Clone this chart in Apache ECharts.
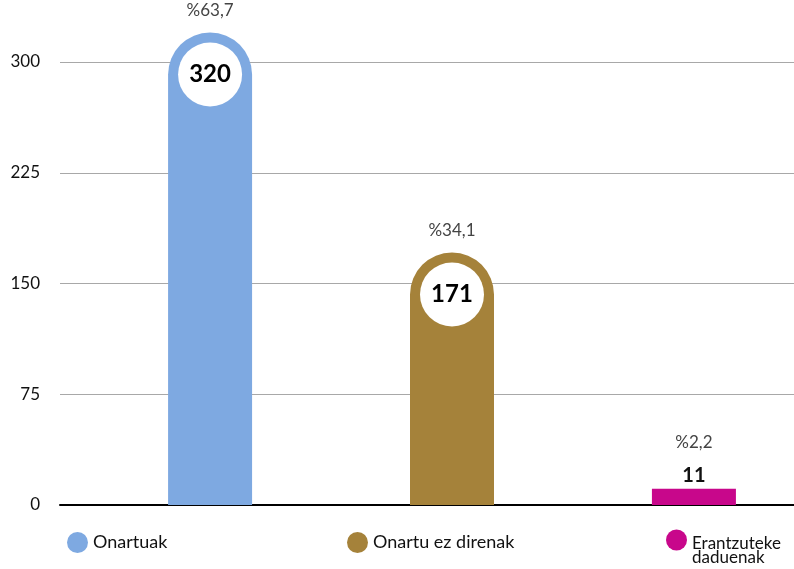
<!DOCTYPE html>
<html>
<head>
<meta charset="utf-8">
<script src="https://cdn.jsdelivr.net/npm/echarts@6/dist/echarts.min.js"></script>
<style>
  html, body { margin: 0; padding: 0; background: #fff; }
  #chart { width: 794px; height: 569px; }
</style>
</head>
<body>
<div id="chart"></div>
<script>
var names = ['Onartuak', 'Onartu ez direnak', 'Erantzuteke daduenak'];
var values = [320, 171, 11];
var percents = [63.7, 34.1, 2.2];
var colors = ['#7EA9E1', '#A5823A', '#C8078B'];
var yTicks = { min: 0, max: 300, interval: 75 };

var font = 'Lato, "Open Sans", sans-serif';

function pctText(p) {
  return '%' + String(p).replace('.', ',');
}

var chart = echarts.init(document.getElementById('chart'));

var series = names.map(function (name, i) {
  var big = values[i] > 50;
  var label;
  if (big) {
    label = {
      show: true,
      position: 'top',
      distance: 0,
      offset: [0, 74],
      formatter: '{pct|' + pctText(percents[i]) + '}\n{val|' + values[i] + '}',
      rich: {
        pct: { fontFamily: font, fontSize: 17, color: '#444', lineHeight: 64, align: 'center' },
        val: {
          fontFamily: font, fontSize: 24, fontWeight: 'bold', color: '#000',
          backgroundColor: '#fff', width: 64, height: 64, lineHeight: 64,
          borderRadius: 32, align: 'center'
        }
      }
    };
  } else {
    label = {
      show: true,
      position: 'top',
      distance: 0,
      formatter: '{pct|' + pctText(percents[i]) + '}\n{val|' + values[i] + '}',
      rich: {
        pct: { fontFamily: font, fontSize: 17, color: '#444', lineHeight: 40, align: 'center' },
        val: { fontFamily: font, fontSize: 20, fontWeight: 'bold', color: '#111', lineHeight: 26, align: 'center' }
      }
    };
  }
  return {
    name: name,
    type: 'bar',
    xAxisIndex: 1,
    yAxisIndex: 1,
    barWidth: 84,
    barGap: '188%',
    clip: false,
    itemStyle: {
      color: colors[i],
      borderRadius: big ? [42, 42, 0, 0] : 0
    },
    label: label,
    data: [values[i]]
  };
});

// legend items sit at uneven spots, so one legend per series
var legendLeft = [62, 342, 661];
var legends = names.map(function (name, i) {
  var twoLines = i == 2;
  return {
    data: [name],
    left: legendLeft[i],
    top: twoLines ? 516 : 527,
    icon: 'circle',
    itemWidth: 21,
    itemHeight: 21,
    selectedMode: false,
    formatter: function (n) {
      if (!twoLines) return n;
      // blank first line pushes the two text lines below the dot centre
      var parts = n.split(' ');
      return '{s| }\n{t|' + parts[0] + '}\n{t|' + parts[1] + '}';
    },
    textStyle: {
      fontFamily: font,
      fontSize: 18,
      color: '#111',
      rich: {
        s: { fontSize: 10, lineHeight: 22 },
        t: { fontFamily: font, fontSize: 17, lineHeight: 14, color: '#111' }
      }
    }
  };
});

var option = {
  backgroundColor: '#fff',
  animation: false,
  legend: legends,
  grid: [
    { left: 60, right: 0, top: 62, bottom: 64 },
    { left: 110, right: 0, top: 62, bottom: 64 }
  ],
  xAxis: [
    {
      gridIndex: 0,
      type: 'category',
      data: [''],
      axisLine: { show: true, lineStyle: { color: '#000', width: 2 } },
      axisTick: { show: false },
      axisLabel: { show: false }
    },
    {
      gridIndex: 1,
      type: 'category',
      data: [''],
      show: false
    }
  ],
  yAxis: [
    {
      gridIndex: 0,
      type: 'value',
      min: yTicks.min,
      max: yTicks.max,
      interval: yTicks.interval,
      axisLine: { show: false },
      axisTick: { show: false },
      axisLabel: { margin: 20, fontFamily: font, fontSize: 17, color: '#111' },
      splitLine: { lineStyle: { color: '#A8A8A8', width: 1 } }
    },
    {
      gridIndex: 1,
      type: 'value',
      min: yTicks.min,
      max: yTicks.max,
      interval: yTicks.interval,
      show: false,
      splitLine: { show: false }
    }
  ],
  series: series
};

chart.setOption(option);
</script>
</body>
</html>
